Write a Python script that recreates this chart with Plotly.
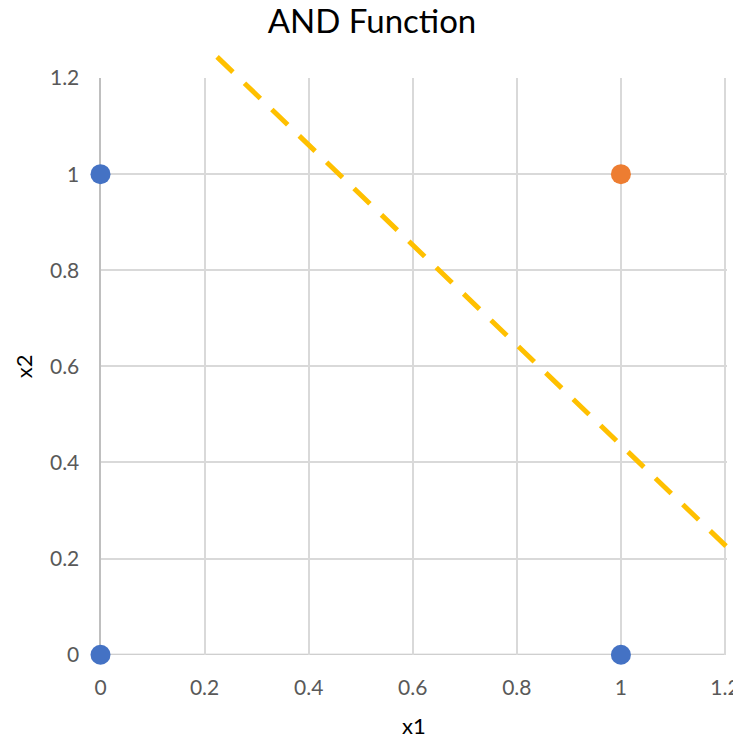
import plotly.graph_objects as go

# ---- data ----
neg_x1 = [0, 0, 1]
neg_x2 = [0, 1, 0]
pos_x1 = [1]
pos_x2 = [1]
line_x1 = [0.224, 1.25]
line_x2 = [1.244, 0.176]
x_ticks = [0, 0.2, 0.4, 0.6, 0.8, 1, 1.2]
x_tick_labels = ["0", "0.2", "0.4", "0.6", "0.8", "1", "1.2"]
y_ticks = [0, 0.2, 0.4, 0.6, 0.8, 1, 1.2]
y_tick_labels = ["0", "0.2", "0.4", "0.6", "0.8", "1", "1.2"]

W, H = 733, 740
# plot-area geometry (pixels)
PX_L, PX_R = 100.5, 725.0   # x=0, x=1.2
PY_B, PY_T = 654.7, 78.0    # y=0, y=1.2
XMAX, YMAX = 1.2, 1.2
XPAD = 0.004                # small extra range so the 1.2 gridline is kept
sx = (PX_R - PX_L) / XMAX
sy = (PY_B - PY_T) / YMAX

FONT = "Lato"
GRID = "#D9D9D9"
AXLINE = "#BFBFBF"
TICKC = "#595959"

fig = go.Figure()
fig.add_trace(go.Scatter(x=neg_x1, y=neg_x2, mode="markers",
                         marker=dict(size=20, color="#4472C4"),
                         cliponaxis=False, showlegend=False,
                         xaxis="x", yaxis="y"))
fig.add_trace(go.Scatter(x=pos_x1, y=pos_x2, mode="markers",
                         marker=dict(size=20, color="#ED7D31"),
                         cliponaxis=False, showlegend=False,
                         xaxis="x", yaxis="y"))
# decision boundary on a full-canvas axis pair with the same scale
fig.add_trace(go.Scatter(x=line_x1, y=line_x2, mode="lines",
                         line=dict(color="#FFC000", width=5, dash="22px,16px"),
                         showlegend=False, xaxis="x2", yaxis="y2"))

fig.update_layout(
    width=W, height=H,
    margin=dict(l=0, r=0, t=0, b=0),
    paper_bgcolor="white", plot_bgcolor="rgba(0,0,0,0)",
    font=dict(family=FONT, color=TICKC, size=21),
    title=dict(text="AND Function", x=372 / W, xanchor="center",
               y=1 - 21 / H, yanchor="middle",
               font=dict(family=FONT, size=33, color="#000000")),
    xaxis=dict(domain=[PX_L / W, (PX_R + XPAD * sx) / W],
               range=[0, XMAX + XPAD],
               tickvals=x_ticks, ticktext=x_tick_labels,
               showgrid=True, gridcolor=GRID, gridwidth=2,
               showline=False,
               zeroline=False, ticks="", ticklabelstandoff=18,
               ticklabeloverflow="allow",
               tickfont=dict(size=21, color=TICKC),
               title=dict(text="x1", standoff=20,
                          font=dict(size=22, color="#000000")),
               layer="below traces",
               automargin=False, anchor="y", fixedrange=True),
    yaxis=dict(domain=[1 - PY_B / H, 1 - PY_T / H], range=[0, YMAX + 1e-4],
               tickvals=y_ticks, ticktext=y_tick_labels,
               showgrid=True, gridcolor=GRID, gridwidth=2,
               showline=True, linecolor=AXLINE, linewidth=2,
               zeroline=False, ticks="", ticklabelstandoff=15,
               ticklabeloverflow="allow",
               tickfont=dict(size=21, color=TICKC),
               title=dict(text="x2", standoff=11,
                          font=dict(size=22, color="#000000")),
               layer="below traces",
               automargin=False, anchor="x", fixedrange=True),
    xaxis2=dict(domain=[0, 1], range=[-PX_L / sx, (W - PX_L) / sx],
                visible=False, anchor="y2", fixedrange=True),
    yaxis2=dict(domain=[0, 1], range=[(PY_B - H) / sy, PY_B / sy],
                visible=False, anchor="x2", fixedrange=True),
)

# x-axis baseline from x=0 to x=1.2 (Excel horizontal axis line)
fig.add_shape(type="line", xref="x", yref="y", x0=0, x1=XMAX, y0=0, y1=0,
              line=dict(color=AXLINE, width=2), layer="below")

fig.write_html("out.html")
